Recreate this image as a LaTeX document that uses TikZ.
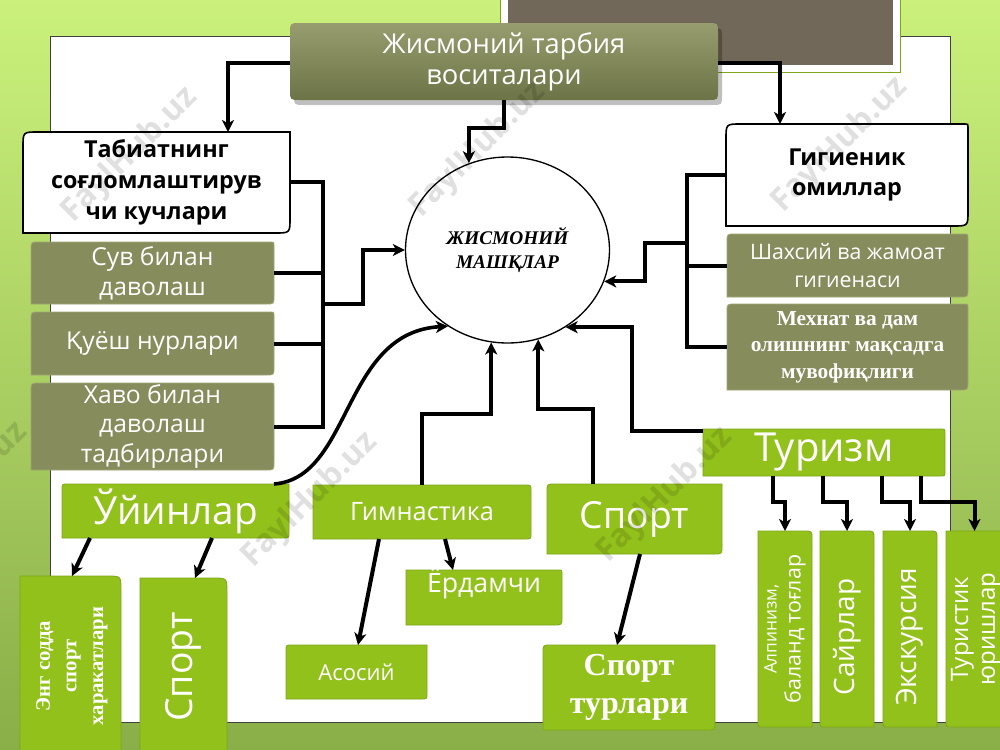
\documentclass[tikz,border=0pt]{standalone}
\usepackage{fontspec}
\setmainfont{Open Sans}
\newfontfamily\serifb{Liberation Serif}
\usetikzlibrary{arrows.meta,shapes.geometric}
\definecolor{limeg}{HTML}{93C11C}
\definecolor{limeedge}{HTML}{7EA618}
\definecolor{oliveg}{HTML}{878C5C}
\definecolor{oliveedge}{HTML}{A0A676}
\definecolor{ttop}{HTML}{979D6E}
\definecolor{tbot}{HTML}{6C7346}
\definecolor{darkbox}{HTML}{716859}
\definecolor{bgtop}{HTML}{CBF17C}
\definecolor{bgbot}{HTML}{8AAE48}
% #1 style, #2 x1, #3 y1, #4 x2, #5 y2, radii: #6 TL, #7 TR, #8 BR, #9 BL
\newcommand\rbox[9]{\path[#1] ({#2},{#3+#6}) .. controls (#2,#3) .. ({#2+#6},#3) -- ({#4-#7},#3) .. controls (#4,#3) .. (#4,{#3+#7}) -- (#4,{#5-#8}) .. controls (#4,#5) .. ({#4-#8},#5) -- ({#2+#9},#5) .. controls (#2,#5) .. (#2,{#5-#9}) -- cycle;}
% #1 name, #2..#5 box, #6 style, #7 text
\newcommand\mk[7]{\node[#6,inner sep=0pt,outer sep=0pt,minimum width={(#4-#2)*0.75pt},minimum height={(#5-#3)*0.75pt}] (#1) at ({(#2+#4)/2},{(#3+#5)/2}) {#7};}
\begin{document}
\begin{tikzpicture}[x=0.75pt,y=-0.75pt,
  conn/.style={line width=3pt},
  arr/.style={line width=3pt,-{Stealth[length=9pt,width=9pt,inset=2.5pt]}},
  ob/.style={fill=oliveg,draw=oliveedge,line width=0.6pt},
  lb/.style={fill=limeg,draw=limeedge,line width=0.6pt},
  wb/.style={fill=white,draw=black,line width=1.2pt},
  wtxt/.style={text=white,align=center},
  btxt/.style={text=black,align=center,font=\bfseries\fontsize{17.5}{23}\selectfont},
  wm/.style={text=black,text opacity=0.12,font=\bfseries\fontsize{24}{24}\selectfont,rotate=45}]
\useasboundingbox (0,0) rectangle (1000,750);
% background
\shade[top color=bgtop,bottom color=bgbot] (0,0) rectangle (1000,750);
\fill[white,draw=black!75,line width=0.6pt] (50,36) rectangle (950,722);
\fill[white,draw=limeedge,line width=0.5pt] (500,-5) rectangle (900,72);
\fill[darkbox] (508,-5) rectangle (893,65);
% title
\rbox{fill=black,opacity=0.25}{294}{28}{722}{105}{10}{10}{10}{10}
\rbox{top color=ttop,bottom color=tbot}{290}{23}{718}{100}{10}{10}{10}{10}
\mk{title}{290}{23}{718}{100}{wtxt,font=\fontsize{20.5}{23.5}\selectfont}{Жисмоний тарбия\\воситалари}
% centre
\node[draw,ellipse,line width=1pt,fill=white,inner sep=0pt,minimum width=153pt,minimum height=139.5pt,align=center,font=\serifb\bfseries\itshape\fontsize{14.5}{18}\selectfont] (circ) at (507.5,250) {ЖИСМОНИЙ\\МАШҚЛАР};
% left column
\rbox{wb}{23}{132}{290}{233}{15}{0}{15}{0}
\mk{tab}{23}{132}{290}{233}{btxt}{Табиатнинг\\соғломлаштирув\\чи кучлари}
\rbox{ob}{31}{242}{274}{304}{8}{3}{8}{0}
\mk{suv}{31}{242}{274}{304}{wtxt,font=\fontsize{18.5}{22.5}\selectfont}{Сув билан\\даволаш}
\rbox{ob}{31}{312}{274}{375}{8}{3}{8}{0}
\mk{quyo}{31}{312}{274}{375}{wtxt,font=\fontsize{18.5}{22.5}\selectfont}{Қуёш нурлари}
\rbox{ob}{31}{383}{274}{470}{8}{3}{8}{0}
\mk{hav}{31}{383}{274}{470}{wtxt,font=\fontsize{18.5}{22}\selectfont}{Хаво билан\\даволаш\\тадбирлари}
% right column
\rbox{wb}{726}{124}{968}{226}{15}{3}{15}{0}
\mk{gig}{726}{124}{968}{226}{btxt,font=\bfseries\fontsize{17.5}{23}\selectfont}{Гигиеник\\омиллар}
\rbox{ob}{727}{234}{968}{297}{8}{3}{8}{0}
\mk{shax}{727}{234}{968}{297}{wtxt,font=\fontsize{16}{21}\selectfont}{Шахсий ва жамоат\\гигиенаси}
\rbox{ob}{727}{304}{968}{390}{8}{3}{8}{0}
\mk{meh}{727}{304}{968}{390}{wtxt,font=\serifb\bfseries\fontsize{16}{20}\selectfont}{Мехнат ва дам\\олишнинг мақсадга\\мувофиқлиги}
% bottom row
\rbox{lb}{62}{484}{289}{538}{6}{0}{6}{0}
\mk{uyin}{62}{484}{289}{538}{wtxt,font=\fontsize{29}{30}\selectfont}{Ўйинлар}
\rbox{lb}{313}{485}{531}{539}{0}{6}{6}{0}
\mk{gym}{313}{485}{531}{539}{wtxt,font=\fontsize{19}{20}\selectfont}{Гимнастика}
\rbox{lb}{406}{570}{562}{625}{0}{4}{8}{0}
\mk{erd}{406}{570}{562}{625}{}{}
\node[wtxt,font=\fontsize{20}{22}\selectfont] (erdt) at ([yshift=10pt]erd.center) {Ёрдамчи};
\rbox{lb}{286}{645}{427}{699}{6}{0}{6}{0}
\mk{asos}{286}{645}{427}{699}{wtxt,font=\fontsize{16.5}{18}\selectfont}{Асосий}
\rbox{lb}{547}{484}{722}{554}{8}{0}{8}{0}
\mk{sport}{547}{484}{722}{554}{wtxt,font=\fontsize{28}{30}\selectfont}{Спорт}
\rbox{lb}{543}{645}{715}{730}{8}{0}{8}{0}
\mk{stur}{543}{645}{715}{730}{wtxt,font=\serifb\bfseries\fontsize{24}{29}\selectfont}{Спорт\\турлари}
\rbox{lb}{703}{429}{945}{476}{0}{5}{5}{0}
\mk{tur}{703}{429}{945}{476}{wtxt,font=\fontsize{30}{30}\selectfont}{Туризм}
% vertical boxes
\rbox{lb}{20}{576}{121}{756}{0}{14}{0}{0}
\mk{eng}{20}{576}{121}{756}{}{}
\node[wtxt,rotate=90,font=\serifb\bfseries\fontsize{15.5}{20}\selectfont] (engt) at ([xshift=1pt]eng.center) {Энг содда\\спорт\\харакатлари};
\rbox{lb}{140}{578}{227}{756}{0}{14}{0}{0}
\mk{spv}{140}{578}{227}{756}{}{}
\node[wtxt,rotate=90,font=\fontsize{28}{30}\selectfont] (spvt) at (spv.center) {Спорт};
\rbox{lb}{758}{531}{812}{727}{0}{8}{0}{6}
\mk{alp}{758}{531}{812}{727}{}{}
\node[wtxt,rotate=90,font=\fontsize{16}{18}\selectfont] (alpt) at (alp.center) {{\fontsize{13}{18}\selectfont Алпинизм,}\\баланд тоғлар};
\rbox{lb}{820}{531}{874}{727}{0}{8}{0}{6}
\mk{sayr}{820}{531}{874}{727}{}{}
\node[wtxt,rotate=90,font=\fontsize{21}{24}\selectfont] (sayrt) at ([yshift=-6pt]sayr.center) {Сайрлар};
\rbox{lb}{883}{531}{937}{727}{0}{8}{0}{6}
\mk{eks}{883}{531}{937}{727}{}{}
\node[wtxt,rotate=90,font=\fontsize{21}{24}\selectfont] (ekst) at ([yshift=-6pt]eks.center) {Экскурсия};
\rbox{lb}{946}{531}{1003}{727}{0}{8}{0}{6}
\mk{turi}{946}{531}{1003}{727}{}{}
\node[wtxt,rotate=90,font=\fontsize{18}{20}\selectfont] (turit) at ([xshift=1pt]turi.center) {Туристик\\юришлар};
% connectors from title
\draw[arr] (title.west |- 0,63) -| (tab.north -| 228,0);
\draw[arr] (title.east |- 0,63) -| (gig.north -| 780,0);
\draw[arr] (title.south -| 504,0) -- (504,128) -| (circ.114);
% left bus
\draw[conn] (tab.east |- 0,182) -| (hav.east -| 323,0) -- (hav.east);
\draw[conn] (suv.east) -- (suv.east -| 321,0);
\draw[conn] (quyo.east) -- (quyo.east -| 321,0);
\coordinate (busL) at (321.5,304);
\draw[arr] (busL) -- (363,304) |- (circ.west);
% right bus
\draw[conn] (gig.west) -| (meh.west -| 687,0) -- (meh.west);
\draw[conn] (shax.west) -- (shax.west -| 687,0);
\coordinate (busR) at (688.5,243);
\draw[arr] (busR) -- (645,243) |- (circ.-18);
% bottom to centre
\draw[arr] (gym.north -| 422,0) -- (422,414) -| (circ.260);
\draw[arr] (sport.north -| 593,0) -- (593,409) -| (circ.289);
\draw[arr] (tur.west |- 0,431) -| (circ.-53 -| 632,0) -- (circ.-53);
\draw[line width=2.7pt,-{Stealth[length=9pt,width=9pt,inset=2.5pt]}] (uyin.north east -| 274,0) .. controls (352,478) and (342,332) .. (circ.232);
% downward arrows
\draw[arr] (uyin.south -| 90,0) -- (eng.north -| 72,0);
\draw[arr] (uyin.south -| 212,0) -- (spv.north -| 195,0);
\draw[arr] (gym.south -| 379,0) -- (asos.north -| 358,0);
\draw[arr] (gym.south -| 445,0) -- (erd.north -| 453,0);
\draw[arr] (sport.south -| 640,0) -- (stur.north -| 617,0);
\draw[arr] (tur.south -| 773,0) -- (773,502) -| (alp.north);
\draw[arr] (tur.south -| 823,0) -- (823,502) -| (sayr.north);
\draw[arr] (tur.south -| 882,0) -- (882,502) -| (eks.north);
\draw[arr] (tur.south -| 921,0) -- (921,502) -| (turi.north);
% watermarks
\node[wm] (w1) at (130,155) {FaylHub.uz};
\node[wm] (w2) at (478,150) {FaylHub.uz};
\node[wm] (w3) at (840,145) {FaylHub.uz};
\node[wm] (w4) at (310,500) {FaylHub.uz};
\node[wm] (w5) at (665,495) {FaylHub.uz};
\node[wm] (w6) at (-40,490) {FaylHub.uz};
\end{tikzpicture}
\end{document}
